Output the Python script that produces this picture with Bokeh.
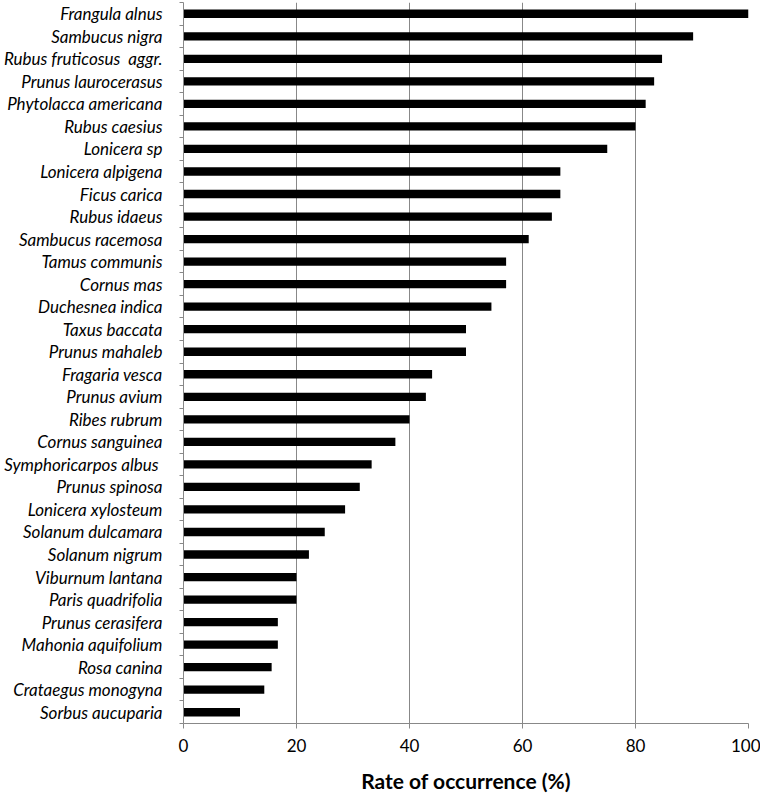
from bokeh.plotting import figure
from bokeh.models import Range1d, FixedTicker, ColumnDataSource
from bokeh.embed import file_html
from bokeh.resources import INLINE

species = [
    "Frangula alnus", "Sambucus nigra", "Rubus fruticosus\u00a0 aggr.", "Prunus laurocerasus",
    "Phytolacca americana", "Rubus caesius", "Lonicera sp", "Lonicera alpigena",
    "Ficus carica", "Rubus idaeus", "Sambucus racemosa", "Tamus communis",
    "Cornus mas", "Duchesnea indica", "Taxus baccata", "Prunus mahaleb",
    "Fragaria vesca", "Prunus avium", "Ribes rubrum", "Cornus sanguinea",
    "Symphoricarpos albus\u00a0", "Prunus spinosa", "Lonicera xylosteum", "Solanum dulcamara",
    "Solanum nigrum", "Viburnum lantana", "Paris quadrifolia", "Prunus cerasifera",
    "Mahonia aquifolium", "Rosa canina", "Crataegus monogyna", "Sorbus aucuparia",
]
rates = [
    100.0, 90.2, 84.7, 83.3, 81.8, 80.0, 75.0, 66.7,
    66.7, 65.2, 61.1, 57.1, 57.1, 54.5, 50.0, 50.0,
    44.0, 42.9, 40.0, 37.5, 33.3, 31.2, 28.6, 25.0,
    22.2, 20.0, 20.0, 16.7, 16.7, 15.6, 14.3, 10.0,
]
x_ticks = [0, 20, 40, 60, 80, 100]

n = len(species)
pos = list(range(n))
src = ColumnDataSource(dict(y=pos, right=rates, name=species))

p = figure(width=760, height=795, output_backend="svg", toolbar_location=None,
           x_range=Range1d(0, 100), y_range=Range1d(n - 0.5, -0.5),
           min_border_left=183, min_border_right=12, min_border_top=2,
           min_border_bottom=70)
p.outline_line_color = None
p.background_fill_color = "white"

p.hbar(y="y", left=0, right="right", height=0.37, source=src,
       fill_color="black", line_color=None)

grid_col = "#888888"
font = "Lato"

# x axis
p.xaxis.ticker = FixedTicker(ticks=x_ticks)
p.xaxis.axis_line_color = grid_col
p.xaxis.major_tick_line_color = grid_col
p.xaxis.major_tick_out = 5
p.xaxis.major_tick_in = 0
p.xaxis.minor_tick_line_color = None
p.xaxis.major_label_text_font = font
p.xaxis.major_label_text_font_size = "17px"
p.xaxis.major_label_text_color = "black"
p.xaxis.major_label_standoff = 10
p.xaxis.axis_label = "Rate of occurrence (%)"
p.xaxis.axis_label_text_font = font
p.xaxis.axis_label_text_font_size = "21px"
p.xaxis.axis_label_text_font_style = "bold"
p.xaxis.axis_label_text_color = "black"
p.xaxis.axis_label_standoff = 13

# y axis
p.yaxis.ticker = FixedTicker(ticks=pos, minor_ticks=[i - 0.5 for i in range(n + 1)])
p.yaxis.major_label_overrides = {i: s for i, s in zip(pos, species)}
p.yaxis.axis_line_color = grid_col
p.yaxis.major_tick_line_color = None
p.yaxis.major_tick_out = 0
p.yaxis.major_tick_in = 0
p.yaxis.minor_tick_line_color = grid_col
p.yaxis.minor_tick_out = 4
p.yaxis.minor_tick_in = 0
p.yaxis.major_label_text_font = font
p.yaxis.major_label_text_font_size = "17px"
p.yaxis.major_label_text_font_style = "italic"
p.yaxis.major_label_text_color = "black"
p.yaxis.major_label_standoff = 17

p.xgrid.ticker = FixedTicker(ticks=x_ticks)
p.xgrid.grid_line_color = grid_col
p.ygrid.grid_line_color = None

open("out.html", "w").write(file_html(p, INLINE))
